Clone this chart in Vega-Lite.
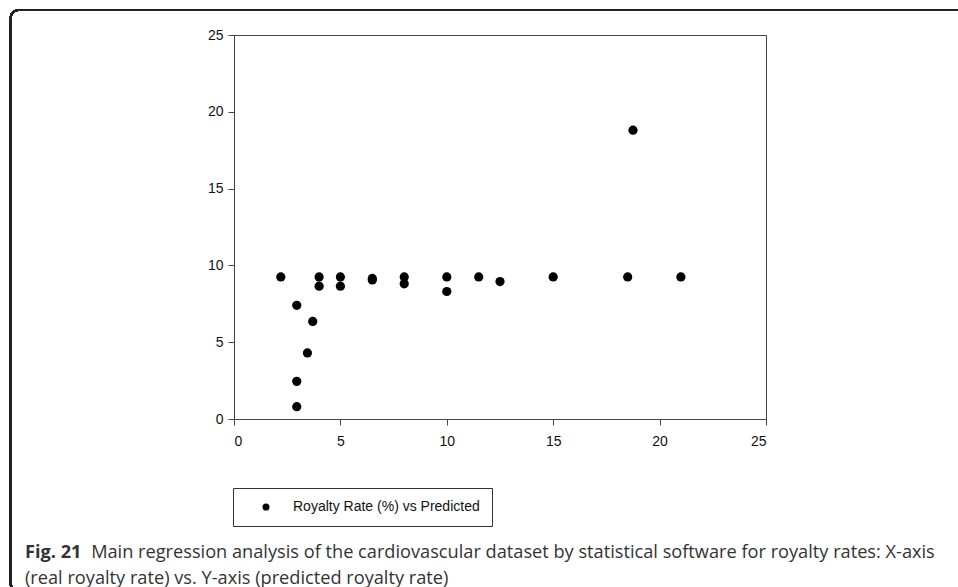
{
  "$schema": "https://vega.github.io/schema/vega-lite/v6.json",
  "width": 532,
  "height": 384,
  "autosize": {"type": "none"},
  "padding": {"left": 234, "top": 35, "right": 192, "bottom": 168},
  "background": "white",
  "config": {
    "view": {"stroke": "#444", "strokeWidth": 1},
    "axis": {
      "grid": false,
      "labelFont": "Liberation Sans",
      "labelFontSize": 14,
      "labelColor": "#111",
      "domainColor": "#444",
      "tickColor": "#444",
      "tickSize": 6,
      "title": null
    }
  },
  "title": {
    "text": "Fig. 21",
    "subtitle": [
      "\u200b\u00a0\u00a0\u00a0\u00a0\u00a0\u00a0\u00a0\u00a0\u00a0\u00a0\u00a0\u00a0\u00a0\u00a0Main regression analysis of the cardiovascular dataset by statistical software for royalty rates: X-axis",
      "(real royalty rate) vs. Y-axis (predicted royalty rate)"
    ],
    "orient": "bottom",
    "anchor": "start",
    "frame": "group",
    "baseline": "top",
    "offset": -48,
    "dx": -209,
    "font": "Open Sans",
    "fontSize": 18.2,
    "fontWeight": "bold",
    "color": "#333",
    "subtitleFont": "Open Sans",
    "subtitleFontSize": 18.2,
    "subtitleFontWeight": "normal",
    "subtitleColor": "#333",
    "subtitlePadding": -18.2,
    "subtitleLineHeight": 26
  },
  "data": {
    "values": [
      {"real": 2.2, "predicted": 9.25, "series": "Royalty Rate (%) vs Predicted"},
      {"real": 2.95, "predicted": 7.4, "series": "Royalty Rate (%) vs Predicted"},
      {"real": 3.7, "predicted": 6.35, "series": "Royalty Rate (%) vs Predicted"},
      {"real": 3.45, "predicted": 4.3, "series": "Royalty Rate (%) vs Predicted"},
      {"real": 2.95, "predicted": 2.45, "series": "Royalty Rate (%) vs Predicted"},
      {"real": 2.95, "predicted": 0.8, "series": "Royalty Rate (%) vs Predicted"},
      {"real": 4, "predicted": 9.25, "series": "Royalty Rate (%) vs Predicted"},
      {"real": 4, "predicted": 8.65, "series": "Royalty Rate (%) vs Predicted"},
      {"real": 5, "predicted": 9.25, "series": "Royalty Rate (%) vs Predicted"},
      {"real": 5, "predicted": 8.65, "series": "Royalty Rate (%) vs Predicted"},
      {"real": 6.5, "predicted": 9.15, "series": "Royalty Rate (%) vs Predicted"},
      {"real": 6.5, "predicted": 9.05, "series": "Royalty Rate (%) vs Predicted"},
      {"real": 8, "predicted": 9.25, "series": "Royalty Rate (%) vs Predicted"},
      {"real": 8, "predicted": 8.8, "series": "Royalty Rate (%) vs Predicted"},
      {"real": 10, "predicted": 9.25, "series": "Royalty Rate (%) vs Predicted"},
      {"real": 10, "predicted": 8.3, "series": "Royalty Rate (%) vs Predicted"},
      {"real": 11.5, "predicted": 9.25, "series": "Royalty Rate (%) vs Predicted"},
      {"real": 12.5, "predicted": 8.95, "series": "Royalty Rate (%) vs Predicted"},
      {"real": 15, "predicted": 9.25, "series": "Royalty Rate (%) vs Predicted"},
      {"real": 18.5, "predicted": 9.25, "series": "Royalty Rate (%) vs Predicted"},
      {"real": 18.75, "predicted": 18.8, "series": "Royalty Rate (%) vs Predicted"},
      {"real": 21, "predicted": 9.25, "series": "Royalty Rate (%) vs Predicted"}
    ]
  },
  "layer": [
    {
      "mark": {"type": "rect", "fill": null, "filled": false, "stroke": "#222", "strokeWidth": 2, "cornerRadius": 8},
      "encoding": {
        "x": {"datum": -10.5, "type": "quantitative"},
        "x2": {"datum": 40},
        "y": {"datum": 26.63, "type": "quantitative"},
        "y2": {"datum": -11.2}
      }
    },
    {
      "mark": {"type": "point", "filled": true, "shape": "circle", "size": 85, "opacity": 1},
      "encoding": {
        "x": {
          "field": "real",
          "type": "quantitative",
          "scale": {"domain": [0, 25], "nice": false, "zero": true},
          "axis": {"values": [0, 5, 10, 15, 20, 25], "labelPadding": 9}
        },
        "y": {
          "field": "predicted",
          "type": "quantitative",
          "scale": {"domain": [0, 25], "nice": false, "zero": true},
          "axis": {"values": [0, 5, 10, 15, 20, 25], "labelPadding": 5}
        },
        "color": {
          "field": "series",
          "type": "nominal",
          "scale": {"range": ["black"]},
          "legend": {
            "title": null,
            "orient": "none",
            "legendX": -1,
            "legendY": 453,
            "strokeColor": "#333",
            "padding": 12,
            "symbolSize": 50,
            "symbolType": "circle",
            "symbolOffset": 14,
            "labelOffset": 20,
            "labelFont": "Liberation Sans",
            "labelFontSize": 14,
            "labelColor": "#111",
            "labelLimit": 400
          }
        }
      }
    }
  ]
}
